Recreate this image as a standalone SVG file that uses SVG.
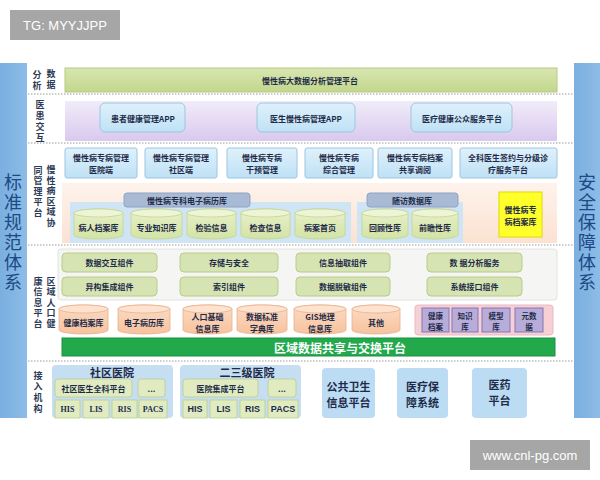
<svg xmlns="http://www.w3.org/2000/svg" width="600" height="480" viewBox="0 0 600 480">
<defs>
<linearGradient id="gBar" x1="0" y1="0" x2="0" y2="1"><stop offset="0" stop-color="#d8e6b2"/><stop offset="1" stop-color="#c3d78c"/></linearGradient>
<linearGradient id="lav" x1="0" y1="0" x2="0" y2="1"><stop offset="0" stop-color="#f1ecf9"/><stop offset="1" stop-color="#d9c9ee"/></linearGradient>
<linearGradient id="lb" x1="0" y1="0" x2="0" y2="1"><stop offset="0" stop-color="#dff1fb"/><stop offset="1" stop-color="#bfe1f6"/></linearGradient>
<linearGradient id="peach" x1="0" y1="0" x2="0" y2="1"><stop offset="0" stop-color="#fef3ec"/><stop offset="1" stop-color="#fbe2d2"/></linearGradient>
<linearGradient id="cylG" x1="0" y1="0" x2="0" y2="1"><stop offset="0" stop-color="#e9f1cc"/><stop offset="1" stop-color="#d3e3a4"/></linearGradient>
<linearGradient id="cylP" x1="0" y1="0" x2="0" y2="1"><stop offset="0" stop-color="#fcdcc4"/><stop offset="1" stop-color="#f6c29e"/></linearGradient>
<linearGradient id="col" x1="0" y1="0" x2="1" y2="0"><stop offset="0" stop-color="#7aafe0"/><stop offset="1" stop-color="#8dbce6"/></linearGradient>
</defs>
<style>
.t{font-family:"Noto Sans CJK SC","Noto Sans",sans-serif;font-size:8px;font-weight:bold;fill:#1e2b48;text-anchor:middle;dominant-baseline:central}
.t7{font-family:"Noto Sans CJK SC",sans-serif;font-size:7.5px;font-weight:bold;fill:#1e2b48;text-anchor:middle;dominant-baseline:central}
.lab{font-family:"Noto Sans CJK SC",sans-serif;font-size:9px;font-weight:bold;fill:#2d3a55;text-anchor:middle;writing-mode:vertical-rl}
.big{font-family:"Noto Sans CJK SC",sans-serif;font-size:18px;fill:#1b4a86;text-anchor:middle;writing-mode:vertical-rl;letter-spacing:2px}
.t11{font-family:"Noto Sans CJK SC",sans-serif;font-size:11px;font-weight:bold;fill:#1e2b48;text-anchor:middle;dominant-baseline:central}
.ser{font-family:"Liberation Serif",serif;font-size:8px;font-weight:bold;fill:#1e2b48;text-anchor:middle;dominant-baseline:central}
.sans{font-family:"Liberation Sans",sans-serif;font-size:9px;font-weight:bold;fill:#1e2b48;text-anchor:middle;dominant-baseline:central}
.dot{stroke:#9a9a9a;stroke-width:1.2;stroke-dasharray:1.5 1.5;fill:none}
.lbx{fill:url(#lb);stroke:#9cc6e0;stroke-width:1}
.cg{fill:url(#cylG);stroke:#c2d490;stroke-width:0.8}
.cge{fill:#eef5d6;stroke:#c2d490;stroke-width:0.8}
.cp{fill:url(#cylP);stroke:#eab08a;stroke-width:0.8}
.cpe{fill:#fde3cf;stroke:#eab08a;stroke-width:0.8}
.comp{fill:#d6e4b3;stroke:#b8cc88;stroke-width:1}
.pur{fill:#b8acd9;stroke:#8576b8;stroke-width:1}
.gin{fill:#e0ebc2;stroke:#b9cd8c;stroke-width:0.8}
.wm{font-family:"Liberation Sans",sans-serif;font-size:13px;fill:#ffffff;text-anchor:middle;dominant-baseline:central}
</style>
<rect width="600" height="480" fill="#ffffff"/>

<g id="watermark-top"><rect x="10" y="10" width="110" height="30" fill="#a6a6a6"/><text class="wm" x="65" y="25">TG: MYYJJPP</text></g>
<g id="watermark-bottom"><rect x="470" y="440" width="120" height="30" fill="#a6a6a6"/><text class="wm" x="530" y="455">www.cnl-pg.com</text></g>

<g id="standards">
<rect x="0" y="63" width="27" height="355" fill="url(#col)"/>
<text class="big" x="13" y="233">标准规范体系</text>
</g>
<g id="security">
<rect x="574" y="63" width="26" height="355" fill="url(#col)"/>
<text class="big" x="587" y="233">安全保障体系</text>
</g>

<g id="separators">
<line class="dot" x1="28" y1="94" x2="573" y2="94"/>
<line class="dot" x1="28" y1="143" x2="573" y2="143"/>
<line class="dot" x1="28" y1="245" x2="573" y2="245"/>
<line class="dot" x1="28" y1="361" x2="573" y2="361"/>
</g>

<g id="labels">
<text class="lab" x="37" y="81" style="letter-spacing:2px">分析</text>
<text class="lab" x="51" y="80" style="letter-spacing:2px">数据</text>
<text class="lab" x="40" y="122" style="letter-spacing:2px">医患交互</text>
<text class="lab" x="51" y="197" style="letter-spacing:1.5px">慢性病区域协</text>
<text class="lab" x="38" y="192" style="letter-spacing:1.5px">同管理平台</text>
<text class="lab" x="51" y="303" style="letter-spacing:1.5px">区域人口健</text>
<text class="lab" x="38" y="303" style="letter-spacing:1.5px">康信息平台</text>
<text class="lab" x="38" y="393" style="letter-spacing:2px">接入机构</text>
</g>

<g id="bigdata-platform">
<rect x="65" y="68" width="492" height="24" fill="url(#gBar)" stroke="#b5ca80"/>
<text class="t" x="310" y="80">慢性病大数据分析管理平台</text>
</g>

<g id="interaction">
<rect x="65" y="101" width="492" height="40" fill="url(#lav)"/>
<rect class="lbx" x="100" y="103" width="85" height="29" rx="5"/><text class="t" x="143" y="118">患者健康管理APP</text>
<rect class="lbx" x="257" y="103" width="98" height="29" rx="5"/><text class="t" x="306" y="118">医生慢性病管理APP</text>
<rect class="lbx" x="411" y="103" width="101" height="29" rx="5"/><text class="t" x="462" y="118">医疗健康公众服务平台</text>
</g>

<g id="collab-apps">
<rect class="lbx" x="65" y="148" width="72" height="30" rx="2"/><text class="t"><tspan x="101" y="157">慢性病专病管理</tspan><tspan x="101" y="169">医院端</tspan></text>
<rect class="lbx" x="145" y="148" width="72" height="30" rx="2"/><text class="t"><tspan x="181" y="157">慢性病专病管理</tspan><tspan x="181" y="169">社区端</tspan></text>
<rect class="lbx" x="227" y="148" width="70" height="30" rx="2"/><text class="t"><tspan x="262" y="157">慢性病专病</tspan><tspan x="262" y="169">干预管理</tspan></text>
<rect class="lbx" x="305" y="148" width="68" height="30" rx="2"/><text class="t"><tspan x="339" y="157">慢性病专病</tspan><tspan x="339" y="169">综合管理</tspan></text>
<rect class="lbx" x="378" y="148" width="74" height="30" rx="2"/><text class="t"><tspan x="415" y="157">慢性病专病档案</tspan><tspan x="415" y="169">共享调阅</tspan></text>
<rect class="lbx" x="460" y="148" width="97" height="30" rx="2"/><text class="t"><tspan x="508" y="157">全科医生签约与分级诊</tspan><tspan x="508" y="169">疗服务平台</tspan></text>
</g>

<g id="collab-data">
<rect x="62" y="183" width="495" height="60" fill="url(#peach)"/>
<rect x="70" y="202" width="281" height="41" fill="#cfe5f5"/>
<rect x="124" y="193" width="126" height="14" rx="3" fill="#a9bad4" stroke="#8fa3c4"/>
<text class="t" x="187" y="200">慢性病专科电子病历库</text>
<rect x="357" y="202" width="106" height="41" fill="#cfe5f5"/>
<rect x="367" y="193" width="91" height="14" rx="3" fill="#a9bad4" stroke="#8fa3c4"/>
<text class="t" x="412" y="200">随访数据库</text>
<path class="cg" d="M74 213v22a24.5 4 0 0 0 49 0v-22a24.5 4 0 0 0 -49 0z"/><ellipse class="cge" cx="98.5" cy="213" rx="24.5" ry="4"/><text class="t" x="98.5" y="227">病人档案库</text>
<path class="cg" d="M131 213v22a25.5 4 0 0 0 51 0v-22a25.5 4 0 0 0 -51 0z"/><ellipse class="cge" cx="156.5" cy="213" rx="25.5" ry="4"/><text class="t" x="156.5" y="227">专业知识库</text>
<path class="cg" d="M187 213v22a24.5 4 0 0 0 49 0v-22a24.5 4 0 0 0 -49 0z"/><ellipse class="cge" cx="211.5" cy="213" rx="24.5" ry="4"/><text class="t" x="211.5" y="227">检验信息</text>
<path class="cg" d="M241 213v22a24.5 4 0 0 0 49 0v-22a24.5 4 0 0 0 -49 0z"/><ellipse class="cge" cx="265.5" cy="213" rx="24.5" ry="4"/><text class="t" x="265.5" y="227">检查信息</text>
<path class="cg" d="M295 213v22a25 4 0 0 0 50 0v-22a25 4 0 0 0 -50 0z"/><ellipse class="cge" cx="320" cy="213" rx="25" ry="4"/><text class="t" x="320" y="227">病案首页</text>
<path class="cg" d="M362 213v22a23 4 0 0 0 46 0v-22a23 4 0 0 0 -46 0z"/><ellipse class="cge" cx="385" cy="213" rx="23" ry="4"/><text class="t" x="385" y="227">回顾性库</text>
<path class="cg" d="M412 213v22a23 4 0 0 0 46 0v-22a23 4 0 0 0 -46 0z"/><ellipse class="cge" cx="435" cy="213" rx="23" ry="4"/><text class="t" x="435" y="227">前瞻性库</text>
<rect x="499" y="192" width="43" height="45" fill="#ffff2a" stroke="#e0da00"/>
<text class="t"><tspan x="520.5" y="208.5">慢性病专</tspan><tspan x="520.5" y="220.5">病档案库</tspan></text>
</g>

<g id="components">
<rect x="58" y="249" width="499" height="51" rx="3" fill="#f5f5f3" stroke="#e2e2e2"/>
<rect class="comp" x="62" y="253" width="95" height="19" rx="4"/><text class="t" x="109.5" y="262.5">数据交互组件</text>
<rect class="comp" x="180" y="253" width="98" height="19" rx="4"/><text class="t" x="229" y="262.5">存储与安全</text>
<rect class="comp" x="296" y="253" width="94" height="19" rx="4"/><text class="t" x="343" y="262.5">信息抽取组件</text>
<rect class="comp" x="427" y="253" width="95" height="19" rx="4"/><text class="t" x="474.5" y="262.5">数 据分析服务</text>
<rect class="comp" x="62" y="277" width="95" height="19" rx="4"/><text class="t" x="109.5" y="286.5">异构集成组件</text>
<rect class="comp" x="180" y="277" width="98" height="19" rx="4"/><text class="t" x="229" y="286.5">索引组件</text>
<rect class="comp" x="296" y="277" width="94" height="19" rx="4"/><text class="t" x="343" y="286.5">数据脱敏组件</text>
<rect class="comp" x="427" y="277" width="95" height="19" rx="4"/><text class="t" x="474.5" y="286.5">系统接口组件</text>
</g>

<g id="health-repos">
<path class="cp" d="M59 309v21a24.5 4 0 0 0 49 0v-21a24.5 4 0 0 0 -49 0z"/><ellipse class="cpe" cx="83.5" cy="309" rx="24.5" ry="4"/><text class="t" x="83.5" y="322">健康档案库</text>
<path class="cp" d="M118 309v21a26 4 0 0 0 52 0v-21a26 4 0 0 0 -52 0z"/><ellipse class="cpe" cx="144" cy="309" rx="26" ry="4"/><text class="t" x="144" y="322">电子病历库</text>
<path class="cp" d="M183 309v21a24.5 4 0 0 0 49 0v-21a24.5 4 0 0 0 -49 0z"/><ellipse class="cpe" cx="207.5" cy="309" rx="24.5" ry="4"/><text class="t"><tspan x="207.5" y="316">人口基础</tspan><tspan x="207.5" y="328">信息库</tspan></text>
<path class="cp" d="M237 309v21a25 4 0 0 0 50 0v-21a25 4 0 0 0 -50 0z"/><ellipse class="cpe" cx="262" cy="309" rx="25" ry="4"/><text class="t"><tspan x="262" y="316">数据标准</tspan><tspan x="262" y="328">字典库</tspan></text>
<path class="cp" d="M294 309v21a26 4 0 0 0 52 0v-21a26 4 0 0 0 -52 0z"/><ellipse class="cpe" cx="320" cy="309" rx="26" ry="4"/><text class="t"><tspan x="320" y="316">GIS地理</tspan><tspan x="320" y="328">信息库</tspan></text>
<path class="cp" d="M352 309v21a24 4 0 0 0 48 0v-21a24 4 0 0 0 -48 0z"/><ellipse class="cpe" cx="376" cy="309" rx="24" ry="4"/><text class="t" x="376" y="322">其他</text>
<rect x="415" y="305" width="138" height="30" rx="3" fill="#f7d0d6" stroke="#eab8c2"/>
<rect class="pur" x="422" y="308" width="27" height="24"/><text class="t7"><tspan x="435.5" y="314.5">健康</tspan><tspan x="435.5" y="326">档案</tspan></text>
<rect class="pur" x="452" y="308" width="26" height="24"/><text class="t7"><tspan x="465" y="314.5">知识</tspan><tspan x="465" y="326">库</tspan></text>
<rect class="pur" x="482" y="308" width="28" height="24"/><text class="t7"><tspan x="496" y="314.5">模型</tspan><tspan x="496" y="326">库</tspan></text>
<rect class="pur" x="515" y="308" width="28" height="24"/><text class="t7"><tspan x="529" y="314.5">元数</tspan><tspan x="529" y="326">据</tspan></text>
</g>

<g id="exchange-platform">
<rect x="62" y="338" width="493" height="18" fill="#22a94c" stroke="#1b9040"/>
<text x="340" y="347" font-family="Noto Sans CJK SC,sans-serif" font-size="12" font-weight="bold" fill="#ffffff" text-anchor="middle" dominant-baseline="central">区域数据共享与交换平台</text>
</g>

<g id="community-hospital">
<rect x="52" y="365" width="121" height="53" rx="4" fill="#c6def2"/>
<text class="t11" x="112" y="371.5">社区医院</text>
<rect class="gin" x="55" y="379" width="77" height="18" rx="3"/><text class="t" x="93.5" y="388">社区医生全科平台</text>
<rect class="gin" x="138" y="379" width="27" height="18" rx="3"/><text class="t" x="151.5" y="388">...</text>
<rect class="gin" x="55" y="400" width="25" height="18"/><text class="ser" x="67.5" y="409">HIS</text>
<rect class="gin" x="83" y="400" width="26" height="18"/><text class="ser" x="96" y="409">LIS</text>
<rect class="gin" x="112" y="400" width="25" height="18"/><text class="ser" x="124.5" y="409">RIS</text>
<rect class="gin" x="139" y="400" width="28" height="18"/><text class="ser" x="153" y="409">PACS</text>
</g>

<g id="secondary-hospital">
<rect x="180" y="365" width="121" height="53" rx="4" fill="#c6def2"/>
<text class="t11" x="247" y="371.5">二三级医院</text>
<rect class="gin" x="183" y="379" width="75" height="18" rx="3"/><text class="t" x="220.5" y="388">医院集成平台</text>
<rect class="gin" x="268" y="379" width="28" height="18" rx="3"/><text class="t" x="282" y="388">...</text>
<rect class="gin" x="183" y="400" width="24" height="18"/><text class="sans" x="195" y="409">HIS</text>
<rect class="gin" x="210" y="400" width="27" height="18"/><text class="sans" x="223.5" y="409">LIS</text>
<rect class="gin" x="240" y="400" width="25" height="18"/><text class="sans" x="252.5" y="409">RIS</text>
<rect class="gin" x="268" y="400" width="30" height="18"/><text class="sans" x="283" y="409">PACS</text>
</g>

<g id="public-health">
<rect x="322" y="368" width="53" height="50" rx="4" fill="#bcdcf4"/>
<text class="t11"><tspan x="348.5" y="386">公共卫生</tspan><tspan x="348.5" y="402">信息平台</tspan></text>
</g>
<g id="medical-insurance">
<rect x="397" y="368" width="51" height="50" rx="4" fill="#bcdcf4"/>
<text class="t11"><tspan x="422.5" y="386">医疗保</tspan><tspan x="422.5" y="402">障系统</tspan></text>
</g>
<g id="pharma">
<rect x="472" y="368" width="55" height="50" rx="4" fill="#bcdcf4"/>
<text class="t11"><tspan x="499.5" y="384">医药</tspan><tspan x="499.5" y="400">平台</tspan></text>
</g>
</svg>
